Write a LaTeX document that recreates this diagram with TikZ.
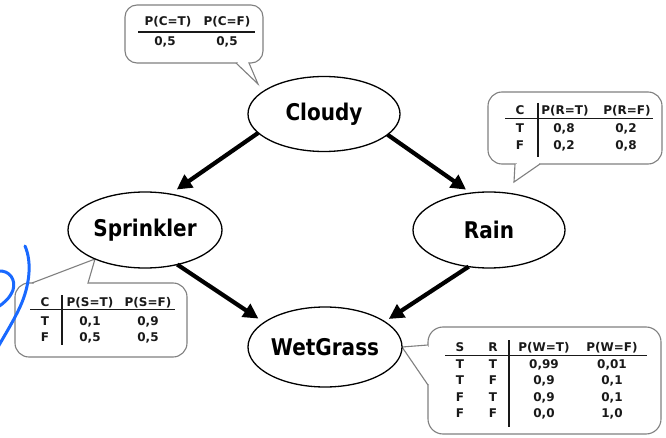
\documentclass[tikz,border=0pt]{standalone}
\usepackage{fontspec}
\setmainfont{DejaVu Sans}
\newfontfamily\labfont{DejaVu Sans}[FakeStretch=0.87]
\usetikzlibrary{shapes.geometric,arrows.meta}
\definecolor{calloutgray}{RGB}{128,128,128}
\definecolor{scribble}{RGB}{25,105,255}
\begin{document}
\begin{tikzpicture}[x=1pt,y=-1pt,
  var/.style={ellipse, draw=black, line width=1.3pt, inner sep=0pt, outer sep=0pt,
    fill=white, font=\labfont\bfseries\fontsize{23}{27}\selectfont},
  arr/.style={line width=4.2pt, -{Triangle[length=15pt,width=15pt]}},
  callout/.style={draw=calloutgray, line width=1.1pt},
  cell/.style={anchor=base, inner sep=0pt, text=black!90,
    font=\bfseries\fontsize{12}{14}\selectfont},
  tabrule/.style={line width=1.2pt, draw=black!90}]
\useasboundingbox[fill=white] (0,0) rectangle (666,438);

% ---------- callouts ----------
% Cloudy CPT
\draw[callout, rounded corners=12pt] (125,5) rectangle (263,63);
\fill[white] (236,63) -- (258,84) -- (249,63) -- cycle;
\draw[white, line width=2.5pt] (237.5,63) -- (247.5,63);
\draw[callout] (236,63) -- (258,84) -- (249,63);
% Rain CPT
\draw[callout, rounded corners=14pt] (488,92) rectangle (662,164);
\fill[white] (515,164) -- (514,182) -- (540,164) -- cycle;
\draw[white, line width=2.5pt] (516.5,164) -- (538.5,164);
\draw[callout] (515,164) -- (514,182) -- (540,164);
% Sprinkler CPT
\draw[callout, rounded corners=14pt] (15,283) rectangle (187,357);
\fill[white] (32,283) -- (95,259) -- (88,283) -- cycle;
\draw[white, line width=2.5pt] (33.5,283) -- (86.5,283);
\draw[callout] (32,283) -- (95,259) -- (88,283);
% WetGrass CPT
\draw[callout, rounded corners=15pt] (428,327) rectangle (661,434);
\fill[white] (428,345) -- (402,347) -- (428,385) -- cycle;
\draw[white, line width=2.5pt] (428,346.5) -- (428,383.5);
\draw[callout] (428,345) -- (402,347) -- (428,385);

% ---------- tables ----------
% P(C)
\node[cell] (c-h1) at (168,26) {P(C=T)};
\node[cell] (c-h2) at (227,26) {P(C=F)};
\node[cell] (c-v1) at (165,45.5) {0,5};
\node[cell] (c-v2) at (227,45.5) {0,5};
\draw[tabrule] (138,32) -- (255,32);

% P(R|C)
\node[cell] (r-h0) at (520,115) {C};
\node[cell] (r-h1) at (565,115) {P(R=T)};
\node[cell] (r-h2) at (627,115) {P(R=F)};
\node[cell] (r-a0) at (520,132.5) {T};
\node[cell] (r-a1) at (564,132.5) {0,8};
\node[cell] (r-a2) at (626,132.5) {0,2};
\node[cell] (r-b0) at (520,150) {F};
\node[cell] (r-b1) at (564,150) {0,2};
\node[cell] (r-b2) at (626,150) {0,8};
\draw[tabrule] (505,118.5) -- (653,118.5);
\draw[tabrule] (538,103) -- (538,157);

% P(S|C)
\node[cell] (s-h0) at (45,306.5) {C};
\node[cell] (s-h1) at (90,306.5) {P(S=T)};
\node[cell] (s-h2) at (148,306.5) {P(S=F)};
\node[cell] (s-a0) at (45,325) {T};
\node[cell] (s-a1) at (90,325) {0,1};
\node[cell] (s-a2) at (148,325) {0,9};
\node[cell] (s-b0) at (45,341) {F};
\node[cell] (s-b1) at (90,341) {0,5};
\node[cell] (s-b2) at (148,341) {0,5};
\draw[tabrule] (30,309.5) -- (175,309.5);
\draw[tabrule] (62,295) -- (62,345);

% P(W|S,R)
\node[cell] (w-h0) at (460,351) {S};
\node[cell] (w-h1) at (493,351) {R};
\node[cell] (w-h2) at (544,351) {P(W=T)};
\node[cell] (w-h3) at (612,351) {P(W=F)};
\node[cell] (w-a0) at (460,368) {T};
\node[cell] (w-a1) at (493,368) {T};
\node[cell] (w-a2) at (544,368) {0,99};
\node[cell] (w-a3) at (612,368) {0,01};
\node[cell] (w-b0) at (460,384.5) {T};
\node[cell] (w-b1) at (493,384.5) {F};
\node[cell] (w-b2) at (544,384.5) {0,9};
\node[cell] (w-b3) at (612,384.5) {0,1};
\node[cell] (w-c0) at (460,401) {F};
\node[cell] (w-c1) at (493,401) {T};
\node[cell] (w-c2) at (544,401) {0,9};
\node[cell] (w-c3) at (612,401) {0,1};
\node[cell] (w-d0) at (460,417) {F};
\node[cell] (w-d1) at (493,417) {F};
\node[cell] (w-d2) at (544,417) {0,0};
\node[cell] (w-d3) at (612,417) {1,0};
\draw[tabrule] (445,355.5) -- (647,355.5);
\draw[tabrule] (509,340) -- (509,427);

% ---------- variables ----------
\node[var, minimum width=152pt, minimum height=75pt] (cloudy) at (324,114) {Cloudy};
\node[var, minimum width=154pt, minimum height=76pt] (sprinkler) at (145,230) {Sprinkler};
\node[var, minimum width=152pt, minimum height=76pt] (rain) at (489,230) {Rain};
\node[var, minimum width=154pt, minimum height=80pt] (wetgrass) at (325,347) {WetGrass};

% ---------- arrows ----------
\draw[arr, shorten >=8pt] (cloudy.196) -- (sprinkler.55);
\draw[arr, shorten >=6pt] (cloudy.342) -- (rain.116);
\draw[arr, shorten >=7pt] (sprinkler.313) -- (wetgrass.158);
\draw[arr, shorten >=5pt] (rain.241) -- (wetgrass.23);

% ---------- blue scribble ----------
\draw[scribble, line width=3pt, line cap=round]
  (25,246) .. controls (32,262) and (30,285) .. (20,307)
  .. controls (14,320) and (6,333) .. (-2,347);
\draw[scribble, line width=3pt, line cap=round]
  (-2,271) .. controls (10,270) and (16,280) .. (13,290)
  .. controls (10,298) and (4,303) .. (-2,307);
\end{tikzpicture}
\end{document}
